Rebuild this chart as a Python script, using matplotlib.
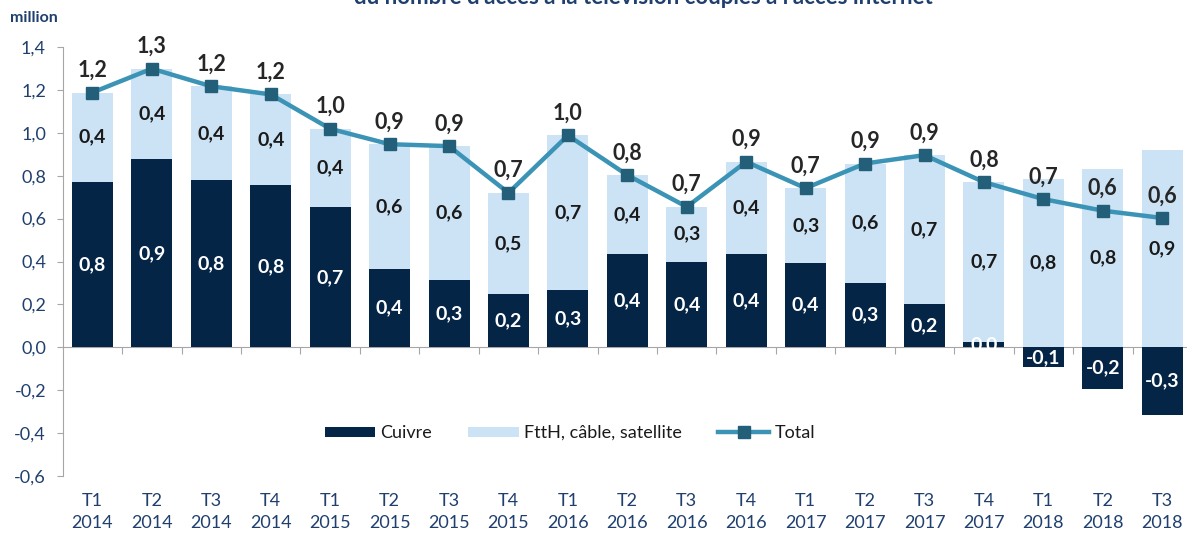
import numpy as np
import matplotlib
matplotlib.use("Agg")
import matplotlib.pyplot as plt
from matplotlib.ticker import FuncFormatter

plt.rcParams['font.family'] = ['Lato', 'DejaVu Sans']

# quarters
trimestres = ["T1\n2014", "T2\n2014", "T3\n2014", "T4\n2014",
              "T1\n2015", "T2\n2015", "T3\n2015", "T4\n2015",
              "T1\n2016", "T2\n2016", "T3\n2016", "T4\n2016",
              "T1\n2017", "T2\n2017", "T3\n2017", "T4\n2017",
              "T1\n2018", "T2\n2018", "T3\n2018"]

# millions of accesses
cuivre = np.array([0.773, 0.876, 0.779, 0.755, 0.652, 0.365, 0.313, 0.247,
                   0.269, 0.434, 0.400, 0.435, 0.395, 0.300, 0.200, 0.025,
                   -0.093, -0.195, -0.315])
ftth = np.array([0.415, 0.423, 0.438, 0.424, 0.367, 0.582, 0.625, 0.473,
                 0.719, 0.369, 0.255, 0.430, 0.347, 0.557, 0.696, 0.745,
                 0.784, 0.832, 0.918])
total = cuivre + ftth

titre = "du nombre d'accès à la télévision couplés à l'accès internet"

NAVY = "#052547"
LIGHT = "#cce3f5"
LINE = "#3b93b6"
MARK = "#235f78"
TXT = "#1f3f6e"
GREY = "#a6a6a6"


def fr(v):
    return f"{v:.1f}".replace(".", ",")


fig = plt.figure(figsize=(11.87, 5.40), dpi=100)
ax = fig.add_axes([0.0528, 0.1185, 0.9514, 0.7944])

x = np.arange(len(trimestres))
w = 0.69
b1 = ax.bar(x, cuivre, w, color=NAVY, label="Cuivre", zorder=2)
b2 = ax.bar(x, ftth, w, bottom=np.maximum(cuivre, 0), color=LIGHT,
            label="FttH, câble, satellite", zorder=2)
ln, = ax.plot(x, total, color=LINE, lw=3.2, marker="s", ms=8, mfc=MARK,
              mec=MARK, label="Total", zorder=4)

for i in range(len(x)):
    ax.text(x[i], cuivre[i] / 2, fr(cuivre[i]), ha="center", va="center",
            color="white", fontsize=14, fontweight="bold", zorder=3)
    b = max(cuivre[i], 0)
    ax.text(x[i], b + ftth[i] / 2, fr(ftth[i]), ha="center", va="center",
            color="#1a1a1a", fontsize=14, fontweight="bold", zorder=3)
    ax.annotate(fr(total[i]), (x[i], total[i]), xytext=(0, 16),
                textcoords="offset points", ha="center", va="center",
                color="#262626", fontsize=15.5, fontweight="bold", zorder=5)

ax.set_xlim(-0.5, len(x) - 0.5)
ax.set_ylim(-0.6, 1.4)
ax.set_yticks(np.arange(-0.6, 1.41, 0.2))
ax.yaxis.set_major_formatter(FuncFormatter(lambda v, p: fr(v + 0.0)))
ax.tick_params(axis="y", colors=GREY, labelcolor=TXT, labelsize=13,
               length=4, pad=8)

ax.set_xticks(x)
ax.set_xticklabels(trimestres, color=TXT, fontsize=13, linespacing=1.45)
ax.tick_params(axis="x", length=0, pad=12)

for s in ["top", "right", "bottom"]:
    ax.spines[s].set_visible(False)
ax.spines["left"].set_color(GREY)

# zero line with category separators
zero = ax.secondary_xaxis(0.3)
zero.set_xticks(np.arange(0.5, len(x) - 0.5, 1))
zero.set_xticklabels([])
zero.tick_params(length=5, color=GREY)
zero.spines["bottom"].set_color(GREY)

ax.legend([b1, b2, ln], ["Cuivre", "FttH, câble, satellite", "Total"],
          loc="center", bbox_to_anchor=(0.449, 0.10), ncol=3, frameon=False,
          fontsize=13, handlelength=2.8, handleheight=0.5,
          columnspacing=2.0, handletextpad=0.3, labelcolor="#1a1a1a")

fig.text(0.0085, 0.967, "million", color=TXT, fontsize=11.5,
         fontweight="bold", ha="left", va="center")
fig.text(0.542, 1 - 4 / 540, titre, color=TXT, fontsize=16,
         fontweight="bold", ha="center", va="baseline")

fig.savefig("out.png", dpi=100)
